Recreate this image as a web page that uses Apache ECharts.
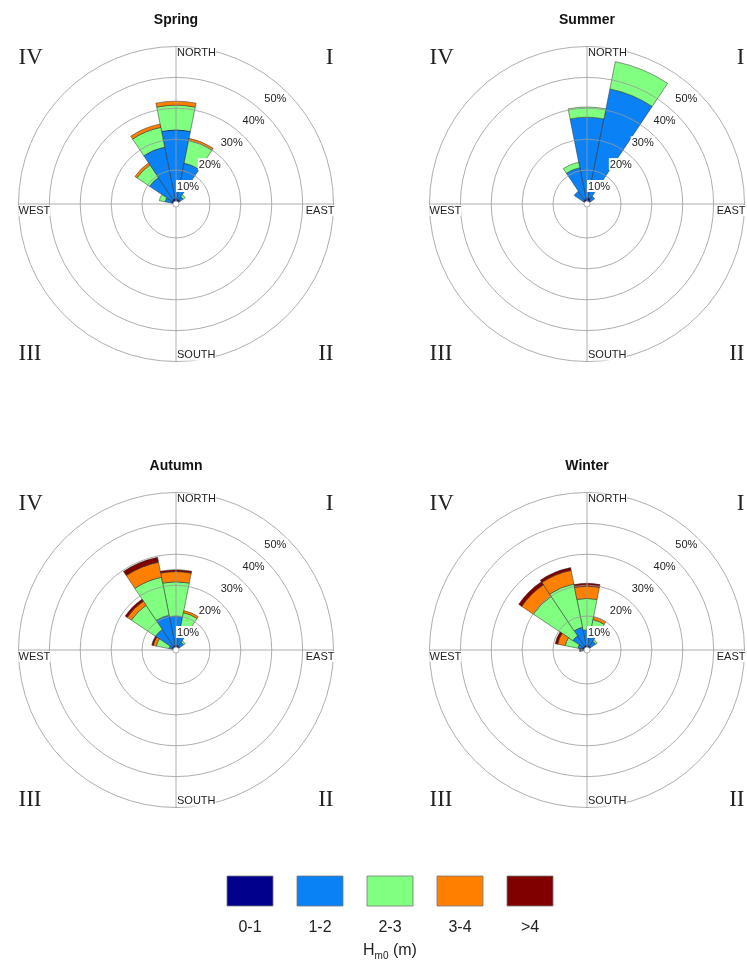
<!DOCTYPE html>
<html><head><meta charset="utf-8">
<script src="https://cdn.jsdelivr.net/npm/echarts@6/dist/echarts.min.js"></script>
<style>html,body{margin:0;padding:0;background:#fff}#c{width:747px;height:965px}</style>
</head><body><div id="c"></div>
<script>
// ---- data ----
const directions = ['N','NNE','NE','ENE','E','ESE','SE','SSE','S','SSW','SW','WSW','W','WNW','NW','NNW'];
const classNames = ['0-1','1-2','2-3','3-4','>4'];
const classColors = ['#00008c','#0a82f5','#80ff80','#ff8000','#800000'];
const seasons = ['Spring','Summer','Autumn','Winter'];
const compassLabels = ['NORTH','EAST','SOUTH','WEST'];
const quadrantLabels = ['I','II','III','IV'];
const ringMax = 50, ringStep = 10; // percent rings 10%..50%

// rows: Hm0 classes (0-1 .. >4); columns: directions N, NNE, ... NNW (percent of time)
//                N    NNE  NE  ENE E ESE SE SSE S SSW SW WSW W    WNW  NW   NNW
const springValues = [
  [0.8, 0.6, 0.6, 0,0,0,0,0,0,0,0,0, 0,   0.4, 0.6, 0.7],
  [22.2,11.9,1.2, 0,0,0,0,0,0,0,0,0, 0,   2.2, 8.7, 17.1],
  [8.0, 7.5, 0.8, 0,0,0,0,0,0,0,0,0, 0,   1.9, 4.9, 6.5],
  [1.3, 0.7, 0,   0,0,0,0,0,0,0,0,0, 0,   0,   0.8, 1.1],
  [0,   0,   0,   0,0,0,0,0,0,0,0,0, 0,   0,   0,   0]
];
const summerValues = [
  [1.0, 1.0, 0.5, 0,0,0,0,0,0,0,0,0, 0,   0,   0.5, 0.6],
  [26.1,36.0,1.5, 0,0,0,0,0,0,0,0,0, 0,   0,   3.5, 10.4],
  [3.3, 9.0, 0,   0,0,0,0,0,0,0,0,0, 0,   0,   0,   1.8],
  [0,   0,   0,   0,0,0,0,0,0,0,0,0, 0,   0,   0,   0],
  [0,   0,   0,   0,0,0,0,0,0,0,0,0, 0,   0,   0,   0]
];
const autumnValues = [
  [0.5, 0.5, 0.4, 0,0,0,0,0,0,0,0,0, 0,   0.3, 0.4, 0.5],
  [9.5, 5.5, 1.6, 0,0,0,0,0,0,0,0,0, 0,   1.0, 6.6, 10.0],
  [11.1,5.3, 0.6, 0,0,0,0,0,0,0,0,0, 0,   4.2, 9.4, 12.5],
  [3.3, 0.7, 0,   0,0,0,0,0,0,0,0,0, 0,   1.0, 1.6, 5.0],
  [0.6, 0,   0,   0,0,0,0,0,0,0,0,0, 0,   0.5, 0.8, 1.6]
];
const winterValues = [
  [0.5, 0.4, 0.4, 0,0,0,0,0,0,0,0,0, 0.3, 0.4, 0.5, 0.5],
  [5.0, 3.6, 2.0, 0,0,0,0,0,0,0,0,0, 0.4, 1.6, 4.0, 6.0],
  [10.2,5.0, 0.6, 0,0,0,0,0,0,0,0,0, 0.3, 4.2, 15.4,14.3],
  [4.0, 1.0, 0,   0,0,0,0,0,0,0,0,0, 0.2, 2.5, 4.5, 4.5],
  [0.9, 0,   0,   0,0,0,0,0,0,0,0,0, 0.2, 0.8, 1.2, 0.9]
];
const seasonValues = [springValues, summerValues, autumnValues, winterValues];

// ---- layout ----
const centers = [[176,204],[587,204],[176,650],[587,650]];
const R = 157.5, R0 = 3.1;
const sans = '"Liberation Sans", Arial, sans-serif';
const serif = '"Liberation Serif", "Times New Roman", serif';
const gridColor = '#999';

const polar = [], angleAxis = [], radiusAxis = [], series = [], graphic = [];

seasonValues.forEach((vals, s) => {
  const [cx, cy] = centers[s];
  const pBar = 3*s, pCross = 3*s+1, pLab = 3*s+2;
  // bars + rings
  polar.push({center:[cx,cy], radius:[R0,R]});
  angleAxis.push({polarIndex:pBar, type:'category', data:directions, startAngle:90+11.25,
    clockwise:true, boundaryGap:true, axisLine:{show:false}, axisTick:{show:false},
    axisLabel:{show:false}, splitLine:{show:false}});
  radiusAxis.push({polarIndex:pBar, type:'value', min:0, max:ringMax, interval:ringStep,
    axisLine:{show:false}, axisTick:{show:false}, axisLabel:{show:false},
    splitLine:{show:true, lineStyle:{color:gridColor, width:0.8}}, z:5});
  // cross lines N-S / E-W
  polar.push({center:[cx,cy], radius:[R0,R]});
  angleAxis.push({polarIndex:pCross, type:'value', min:0, max:360, interval:90, startAngle:90,
    clockwise:true, axisLine:{show:false}, axisTick:{show:false}, axisLabel:{show:false},
    splitLine:{show:true, lineStyle:{color:gridColor, width:0.8}}, z:5});
  radiusAxis.push({polarIndex:pCross, type:'value', min:0, max:ringMax, show:false});
  // percent labels along the 45° ray
  polar.push({center:[cx,cy], radius:[R0,R]});
  angleAxis.push({polarIndex:pLab, type:'value', min:0, max:360, startAngle:45, show:false});
  radiusAxis.push({polarIndex:pLab, type:'value', min:0, max:ringMax, interval:ringStep,
    axisLine:{show:false}, axisTick:{show:false}, splitLine:{show:false},
    axisLabel:{show:true, showMinLabel:false, formatter:v => v ? v + '%' : '',
      align:'right', verticalAlign:'top', margin:0, fontSize:11, fontFamily:sans,
      color:'#222', backgroundColor:'#fff', padding:[1,1,0,1]}, z:6});

  classNames.forEach((name, c) => {
    series.push({type:'bar', coordinateSystem:'polar', polarIndex:pBar, name:name,
      stack:'st'+s, barCategoryGap:'0%', silent:true, z:2,
      data: vals[c].map(v => v > 0 ? v : null),
      itemStyle:{color:classColors[c], borderColor:'#2a2a2a', borderWidth:0.5}});
  });

  // title
  graphic.push({type:'text', x:cx, y:cy-184, z:10, style:{text:seasons[s], align:'center',
    verticalAlign:'middle', fontSize:14, fontWeight:'bold', fontFamily:sans, fill:'#111'}});
  // compass labels
  const cl = {fontSize:11, fontFamily:sans, fill:'#222', backgroundColor:'#fff'};
  graphic.push({type:'text', x:cx+1, y:cy-R+1, z:10, style:Object.assign({text:compassLabels[0], align:'left', verticalAlign:'top'}, cl)});
  graphic.push({type:'text', x:cx+R+1, y:cy+1, z:10, style:Object.assign({text:compassLabels[1], align:'right', verticalAlign:'top'}, cl)});
  graphic.push({type:'text', x:cx+1, y:cy+R-1, z:10, style:Object.assign({text:compassLabels[2], align:'left', verticalAlign:'bottom'}, cl)});
  graphic.push({type:'text', x:cx-R, y:cy+1, z:10, style:Object.assign({text:compassLabels[3], align:'left', verticalAlign:'top'}, cl)});
  // quadrant numerals
  const ql = {fontSize:23, fontFamily:serif, fill:'#222', verticalAlign:'middle'};
  graphic.push({type:'text', x:cx+R, y:cy-146, z:10, style:Object.assign({text:quadrantLabels[0], align:'right'}, ql)});
  graphic.push({type:'text', x:cx+R, y:cy+150, z:10, style:Object.assign({text:quadrantLabels[1], align:'right'}, ql)});
  graphic.push({type:'text', x:cx-R, y:cy+150, z:10, style:Object.assign({text:quadrantLabels[2], align:'left'}, ql)});
  graphic.push({type:'text', x:cx-R, y:cy-146, z:10, style:Object.assign({text:quadrantLabels[3], align:'left'}, ql)});
});

// legend (boxes with labels underneath)
const legendLeft = 227, legendStep = 70, legendTop = 876, boxW = 46, boxH = 30;
classNames.forEach((name, c) => {
  const x = legendLeft + c*legendStep;
  graphic.push({type:'rect', z:10, shape:{x:x, y:legendTop, width:boxW, height:boxH},
    style:{fill:classColors[c], stroke:'#777', lineWidth:0.8}});
  graphic.push({type:'text', z:10, x:x+boxW/2, y:legendTop+52, style:{text:name, align:'center',
    verticalAlign:'middle', fontSize:16, fontFamily:sans, fill:'#222'}});
});
graphic.push({type:'text', z:10, x:legendLeft + 2*legendStep + boxW/2, y:legendTop+75,
  style:{text:'{h|H}{s|m0}{h| (m)}', align:'center', verticalAlign:'middle', fill:'#222',
    rich:{h:{fontSize:16, fontFamily:sans, fill:'#222', lineHeight:20},
          s:{fontSize:10, fontFamily:sans, fill:'#222', lineHeight:20, verticalAlign:'bottom'}}}});

const chart = echarts.init(document.getElementById('c'), null, {renderer:'canvas'});
chart.setOption({
  animation:false,
  backgroundColor:'#fff',
  textStyle:{fontFamily:sans},
  polar, angleAxis, radiusAxis, series, graphic
});
</script>
</body></html>
